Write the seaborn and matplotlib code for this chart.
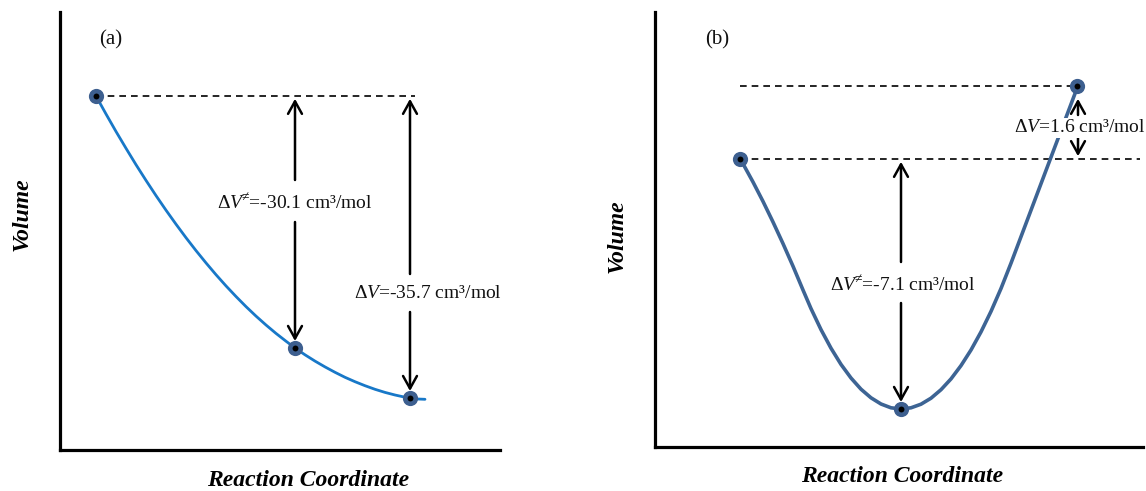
import matplotlib
matplotlib.use("Agg")
import matplotlib.pyplot as plt
import seaborn as sns
import pandas as pd

# ---------------- data (arbitrary units) ----------------
# panel (a): reaction coordinate vs volume
a_curve_x = [36, 46, 56, 66, 76, 86, 96, 106, 116, 126, 136, 146, 156, 166, 176, 186, 196,
             206, 216, 226, 235, 245, 255, 265, 275, 285, 295, 305, 315, 325, 335, 345,
             350, 355, 365]
a_curve_y = [354, 336, 318.5, 301.7, 285.3, 269.6, 254.4, 239.8, 225.8, 212.3, 199.4, 187.1,
             175.3, 164.1, 153.5, 143.4, 133.9, 125.0, 116.6, 108.8, 102, 95.2, 88.9, 83.1,
             77.7, 72.7, 68.3, 64.3, 60.7, 57.6, 55.0, 52.8, 51.9, 51.1, 50.7]
a_points_x = [36, 235, 350]
a_points_y = [354, 102, 52]
a_labels = ["ΔV≠=-30.1", "ΔV=-35.7"]

# panel (b)
b_curve_x = [85, 98, 108, 118, 128, 138, 148, 156, 166, 176, 186, 196, 206, 216, 226, 236,
             246, 256, 266, 276, 286, 296, 306, 316, 326, 336, 346, 356, 366, 376, 386, 396,
             406, 416, 423]
b_curve_y = [288.7, 265, 245.6, 225, 203.4, 180.8, 157, 138.4, 117.4, 98.8, 82.6, 69, 57.8,
             49.2, 43, 39.2, 38, 39.2, 42.8, 48.8, 57.3, 68.1, 81.4, 97, 115.1, 135.6, 158.5,
             183.8, 210.3, 236.8, 263.3, 289.8, 316.3, 342.8, 361.4]
b_points_x = [85, 246, 422]
b_points_y = [288, 38, 361]
b_labels = ["ΔV≠=-7.1", "ΔV=1.6"]

# ---------------- style ----------------
sns.set_style("white")
plt.rcParams["font.family"] = ["Liberation Serif", "DejaVu Serif"]
plt.rcParams["mathtext.fontset"] = "custom"
plt.rcParams["mathtext.rm"] = "Liberation Serif"
plt.rcParams["mathtext.it"] = "Liberation Serif:italic"

W, H = 1146, 491
fig = plt.figure(figsize=(W / 100, H / 100), dpi=100)

axA = fig.add_axes([60 / W, (H - 450) / H, 440 / W, 438 / H])
axB = fig.add_axes([655 / W, (H - 447) / H, 488 / W, 435 / H])
axA.set_xlim(0, 440); axA.set_ylim(0, 438)
axB.set_xlim(0, 488); axB.set_ylim(0, 435)

for ax in (axA, axB):
    for s in ("top", "right"):
        ax.spines[s].set_visible(False)
    for s in ("left", "bottom"):
        ax.spines[s].set_linewidth(2.3)
        ax.spines[s].set_color("black")
    ax.set_xticks([]); ax.set_yticks([])
    ax.set_facecolor("white")

pt_color = "#3d5f8f"
arrow_kw = dict(arrowstyle="->,head_length=0.9,head_width=0.5", color="black", lw=1.8,
                shrinkA=0)
txt_kw = dict(fontsize=14, ha="center", va="center", color="#111111")


def fmt(lbl):
    sym, val = lbl.split("=", 1)
    if "≠" in sym:
        s = r"$\mathit{ΔV}^{\!\!\neq}\!$"
    else:
        s = r"$\mathit{ΔV}$"
    return s + "=" + val + " cm³/mol"


def draw_points(ax, xs, ys):
    df = pd.DataFrame({"x": xs, "y": ys})
    sns.scatterplot(data=df, x="x", y="y", ax=ax, s=120, color=pt_color, edgecolor=pt_color,
                    linewidth=0, zorder=5, clip_on=False, legend=False)
    sns.scatterplot(data=df, x="x", y="y", ax=ax, s=18, color="black", edgecolor="black",
                    linewidth=0, zorder=6, clip_on=False, legend=False)


# ---------------- panel (a) ----------------
dfa = pd.DataFrame({"x": a_curve_x, "y": a_curve_y})
sns.lineplot(data=dfa, x="x", y="y", ax=axA, sort=False, color="#1878c8", lw=2.0, zorder=3)
draw_points(axA, a_points_x, a_points_y)

axA.plot([a_points_x[0], a_points_x[2] + 5], [a_points_y[0]] * 2, ls=(0, (4, 3)),
         color="black", lw=1.2, zorder=2)

x1 = a_points_x[1]
axA.annotate("", xy=(x1, a_points_y[0]), xytext=(x1, 270), arrowprops=arrow_kw)
axA.annotate("", xy=(x1, a_points_y[1]), xytext=(x1, 228),
             arrowprops=dict(arrow_kw, shrinkB=5))
axA.text(x1, 247, fmt(a_labels[0]), **txt_kw)

x2 = a_points_x[2]
axA.annotate("", xy=(x2, a_points_y[0]), xytext=(x2, 176), arrowprops=arrow_kw)
axA.annotate("", xy=(x2, a_points_y[2]), xytext=(x2, 138),
             arrowprops=dict(arrow_kw, shrinkB=5))
axA.text(x2 + 18, 157, fmt(a_labels[1]), **txt_kw)

axA.text(51, 410, "(a)", fontsize=15, ha="center", va="center", color="#111111")

# ---------------- panel (b) ----------------
dfb = pd.DataFrame({"x": b_curve_x, "y": b_curve_y})
sns.lineplot(data=dfb, x="x", y="y", ax=axB, sort=False, color="#3d6494", lw=2.6, zorder=3)
draw_points(axB, b_points_x, b_points_y)

axB.plot([b_points_x[0], b_points_x[2]], [b_points_y[2]] * 2, ls=(0, (4, 3)),
         color="black", lw=1.2, zorder=2)
axB.plot([b_points_x[0], 485], [b_points_y[0]] * 2, ls=(0, (4, 3)),
         color="black", lw=1.2, zorder=2)

xb = b_points_x[1]
axB.annotate("", xy=(xb, b_points_y[0]), xytext=(xb, 185), arrowprops=arrow_kw)
axB.annotate("", xy=(xb, b_points_y[1]), xytext=(xb, 144),
             arrowprops=dict(arrow_kw, shrinkB=5))
axB.text(xb + 2, 162, fmt(b_labels[0]), **txt_kw)

xs = b_points_x[2] + 1
axB.annotate("", xy=(xs, b_points_y[2] - 10), xytext=(xs, 332), arrowprops=arrow_kw,
             annotation_clip=False)
axB.annotate("", xy=(xs, b_points_y[0]), xytext=(xs, 309), arrowprops=arrow_kw,
             annotation_clip=False)
axB.text(xs + 2, 319, fmt(b_labels[1]), zorder=4, clip_on=False,
         bbox=dict(facecolor="white", edgecolor="none", pad=1.0), **txt_kw)

axB.text(62, 407, "(b)", fontsize=15, ha="center", va="center", color="#111111")

axA.set_xlabel(""); axA.set_ylabel("")
axB.set_xlabel(""); axB.set_ylabel("")

# ---------------- axis labels ----------------
lab_kw = dict(fontsize=17, fontweight="bold", fontstyle="italic", ha="center", va="center",
              color="black")
fig.text(308 / W, 1 - 481 / H, "Reaction Coordinate", **lab_kw)
fig.text(902 / W, 1 - 476 / H, "Reaction Coordinate", **lab_kw)
fig.text(22 / W, 1 - 214 / H, "Volume", rotation=90, **lab_kw)
fig.text(617 / W, 1 - 236 / H, "Volume", rotation=90, **lab_kw)

fig.savefig("out.png", dpi=100, facecolor="white")
